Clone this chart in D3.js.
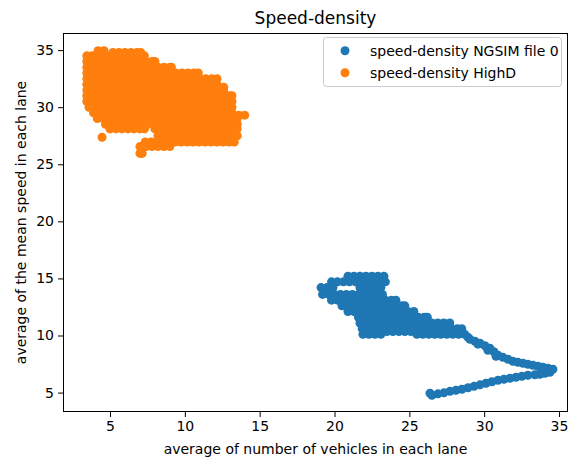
<!DOCTYPE html>
<html>
<head>
<meta charset="utf-8">
<script src="https://cdn.jsdelivr.net/npm/d3@7"></script>
<style>
  html, body { margin: 0; padding: 0; background: #fff; }
  svg { display: block; font-family: "DejaVu Sans", sans-serif; }
</style>
</head>
<body>
<svg id="chart" width="570" height="462"></svg>
<script>
// ---------- data ----------
const title = "Speed-density";
const xLabel = "average of number of vehicles in each lane";
const yLabel = "average of the mean speed in each lane";
const seriesNames = ["speed-density NGSIM file 0", "speed-density HighD"];
const xTicks = [5, 10, 15, 20, 25, 30, 35];
const yTicks = [5, 10, 15, 20, 25, 30, 35];

// NGSIM (blue): rows of [speed, [densities...]]
const ngsimRows = [
  [15.2, [20.9, 21.3, 21.7, 22.1, 22.5, 22.9, 23.3]],
  [14.7, [19.8, 20.2, 20.6, 21.0, 21.4, 21.8, 22.2, 22.6, 23.0, 23.4]],
  [14.2, [19.1, 19.5, 19.9, 21.7, 22.1, 22.5, 22.9, 23.1]],
  [13.6, [19.2, 19.6, 20.0, 20.4, 20.8, 21.2, 21.6, 22.0, 22.4, 22.8, 23.2]],
  [13.1, [19.8, 20.2, 20.6, 21.0, 21.4, 21.8, 22.2, 22.6, 23.0, 23.4, 23.8, 24.1]],
  [12.6, [20.5, 20.9, 21.3, 21.7, 22.1, 22.5, 22.9, 23.3, 23.7, 24.1, 24.5, 24.7]],
  [12.1, [20.9, 21.3, 21.7, 22.1, 22.5, 22.9, 23.3, 23.7, 24.1, 24.5, 24.9, 25.3]],
  [11.6, [21.6, 22.0, 22.4, 22.8, 23.2, 23.6, 24.0, 24.4, 24.8, 25.2, 25.6, 26.0, 26.2]],
  [11.1, [21.7, 22.1, 22.5, 22.9, 23.3, 23.7, 24.1, 24.5, 24.9, 25.3, 25.7, 26.1, 26.5, 26.9, 27.3, 27.7]],
  [10.6, [21.85, 22.2, 22.6, 23.0, 23.4, 23.8, 24.2, 24.6, 25.0, 25.4, 25.8, 26.2, 26.6, 27.0, 27.4, 27.8, 28.2, 28.5]],
  [10.35, [23.5, 23.9, 24.3, 24.7, 25.1]],
  [10.1, [21.9, 22.3, 22.7, 23.1, 25.5, 25.9, 26.3, 26.7, 27.1, 27.5, 27.9, 28.3, 28.7]]
];
// NGSIM (blue): descending band and returning lower band, [density, speed]
const ngsimBand = [
  [28.92, 9.84], [29.05, 9.67], [29.38, 9.50], [29.58, 9.24], [29.72, 9.32], [30.05, 9.10],
  [30.25, 8.70], [30.38, 8.88], [30.65, 8.58], [30.79, 8.18], [30.92, 8.27], [31.25, 8.09],
  [31.59, 7.92], [31.92, 7.74], [32.25, 7.65], [32.59, 7.57], [32.92, 7.48], [33.26, 7.39],
  [33.59, 7.31], [33.92, 7.22], [34.26, 7.13], [34.59, 7.04]
];
const ngsimLower = [
  [34.39, 6.78], [34.06, 6.69], [33.72, 6.60], [33.39, 6.56], [32.92, 6.52], [32.52, 6.43],
  [32.12, 6.34], [31.72, 6.25], [31.32, 6.17], [30.92, 6.08], [30.52, 5.95], [30.12, 5.82],
  [29.72, 5.68], [29.32, 5.55], [28.92, 5.42], [28.51, 5.29], [28.11, 5.20], [27.71, 5.11],
  [27.31, 4.98], [26.91, 4.89], [26.51, 4.76], [26.38, 4.94]
];

// HighD (orange): rows of [speed, [densities...]]
const highdRows = [
  [34.95, [4.2, 4.6]],
  [34.8, [5.2, 5.6, 6.0, 6.4, 6.8, 7.05]],
  [34.5, [3.45, 3.8, 4.2, 4.6, 5.0, 5.4, 5.8, 6.2, 6.6, 7.0, 7.3]],
  [34.0, [3.45, 3.8, 4.2, 4.6, 5.0, 5.4, 5.8, 6.2, 6.6, 7.0, 7.4, 7.8, 8.0]],
  [33.5, [3.45, 3.8, 4.2, 4.6, 5.0, 5.4, 5.8, 6.2, 6.6, 7.0, 7.4, 7.8, 8.2, 8.6, 9.0, 9.1]],
  [33.0, [3.45, 3.8, 4.2, 4.6, 5.0, 5.4, 5.8, 6.2, 6.6, 7.0, 7.4, 7.8, 8.2, 8.6, 9.0, 9.4, 9.8, 10.2, 10.6, 10.9]],
  [32.5, [3.45, 3.8, 4.2, 4.6, 5.0, 5.4, 5.8, 6.2, 6.6, 7.0, 7.4, 7.8, 8.2, 8.6, 9.0, 9.4, 9.8, 10.2, 10.6, 11.0, 11.4, 11.8, 12.15]],
  [32.0, [3.45, 3.8, 4.2, 4.6, 5.0, 5.4, 5.8, 6.2, 6.6, 7.0, 7.4, 7.8, 8.2, 8.6, 9.0, 9.4, 9.8, 10.2, 10.6, 11.0, 11.4, 11.8, 12.15]],
  [31.75, [12.6]],
  [31.5, [3.45, 3.8, 4.2, 4.6, 5.0, 5.4, 5.8, 6.2, 6.6, 7.0, 7.4, 7.8, 8.2, 8.6, 9.0, 9.4, 9.8, 10.2, 10.6, 11.0, 11.4, 11.8, 12.2, 12.6]],
  [31.0, [3.45, 3.8, 4.2, 4.6, 5.0, 5.4, 5.8, 6.2, 6.6, 7.0, 7.4, 7.8, 8.2, 8.6, 9.0, 9.4, 9.8, 10.2, 10.6, 11.0, 11.4, 11.8, 12.2, 12.6, 13.0, 13.15]],
  [30.5, [3.45, 3.8, 4.2, 4.6, 5.0, 5.4, 5.8, 6.2, 6.6, 7.0, 7.4, 7.8, 8.2, 8.6, 9.0, 9.4, 9.8, 10.2, 10.6, 11.0, 11.4, 11.8, 12.2, 12.6, 13.0, 13.15]],
  [30.0, [3.6, 4.0, 4.4, 4.8, 5.2, 5.6, 6.0, 6.4, 6.8, 7.2, 7.6, 8.0, 8.4, 8.8, 9.2, 9.6, 10.0, 10.4, 10.8, 11.2, 11.6, 12.0, 12.4, 12.8, 13.15]],
  [29.5, [3.9, 4.3, 4.7, 5.1, 5.5, 5.9, 6.3, 6.7, 7.1, 7.5, 7.9, 8.3, 8.7, 9.1, 9.5, 9.9, 10.3, 10.7, 11.1, 11.5, 11.9, 12.3, 12.7, 13.15]],
  [29.3, [13.6, 14.0]],
  [29.0, [4.15, 4.55, 4.95, 5.35, 5.75, 6.15, 6.55, 6.95, 7.35, 7.75, 8.15, 8.55, 8.95, 9.35, 9.75, 10.15, 10.55, 10.95, 11.35, 11.75, 12.15, 12.55, 12.95, 13.3, 13.5]],
  [28.5, [4.7, 5.1, 5.5, 5.9, 6.3, 6.7, 7.1, 7.5, 7.9, 8.3, 8.7, 9.1, 9.5, 9.9, 10.3, 10.7, 11.1, 11.5, 11.9, 12.3, 12.7, 13.1, 13.5]],
  [28.1, [5.0, 5.4, 5.8, 6.2, 6.6, 7.0, 7.3, 8.0, 8.4, 8.8, 9.2, 9.6, 10.0, 10.4, 10.8, 11.2, 11.6, 12.0, 12.4, 12.8, 13.2, 13.5]],
  [27.5, [8.2, 8.6, 9.0, 9.4, 9.8, 10.2, 10.6, 11.0, 11.4, 11.8, 12.2, 12.6, 13.0, 13.5]],
  [27.37, [4.47]],
  [26.95, [7.35, 7.75, 8.15, 8.55, 8.95, 9.35, 9.75, 10.15, 10.55, 10.95, 11.35, 11.75, 12.15, 12.55, 12.95, 13.3]],
  [26.55, [7.0, 7.4, 7.8, 8.2, 8.6, 9.0]],
  [25.95, [7.0, 7.15]]
];

const colors = ["#1f77b4", "#ff7f0e"];

// ---------- build point tables ----------
const fromRows = rows => rows.flatMap(([yv, xs]) => xs.map(xv => [xv, yv]));
const ngsimPts = fromRows(ngsimRows).concat(ngsimBand, ngsimLower);
const highdPts = fromRows(highdRows);

// ---------- layout ----------
const W = 570, H = 462;
const plot = { left: 63, right: 568, top: 33, bottom: 412 };
const R = 4.5;
const FONT = "DejaVu Sans, sans-serif";

const svg = d3.select("#chart");
svg.append("rect").attr("width", W).attr("height", H).attr("fill", "#fff");

const x = d3.scaleLinear().domain([1.86, 35.6]).range([plot.left, plot.right]);
const y = d3.scaleLinear().domain([3.3, 36.5]).range([plot.bottom, plot.top]);

// points
const g = svg.append("g");
[ngsimPts, highdPts].forEach((pts, i) => {
  g.append("g").selectAll("circle").data(pts).join("circle")
    .attr("cx", d => x(d[0])).attr("cy", d => y(d[1]))
    .attr("r", R).attr("fill", colors[i]);
});

// axes
const xAxis = svg.append("g").attr("transform", `translate(0,${plot.bottom})`)
  .call(d3.axisBottom(x).tickValues(xTicks).tickSize(5).tickSizeOuter(0).tickPadding(4).tickFormat(d3.format("d")));
const yAxis = svg.append("g").attr("transform", `translate(${plot.left},0)`)
  .call(d3.axisLeft(y).tickValues(yTicks).tickSize(5).tickSizeOuter(0).tickPadding(4).tickFormat(d3.format("d")));
[xAxis, yAxis].forEach(a => {
  a.select(".domain").remove();
  a.selectAll("line").attr("stroke", "#000").attr("stroke-width", 1);
  a.selectAll("text").attr("font-family", FONT).attr("font-size", 14).attr("fill", "#000");
});

// frame
svg.append("rect")
  .attr("x", plot.left + 0.5).attr("y", plot.top + 0.5)
  .attr("width", plot.right - plot.left - 1).attr("height", plot.bottom - plot.top - 1)
  .attr("fill", "none").attr("stroke", "#000").attr("stroke-width", 1);

// title and labels
svg.append("text").attr("x", (plot.left + plot.right) / 2).attr("y", 23.5)
  .attr("text-anchor", "middle").attr("font-family", FONT).attr("font-size", 17).attr("fill", "#000")
  .text(title);
svg.append("text").attr("x", (plot.left + plot.right) / 2).attr("y", 454)
  .attr("text-anchor", "middle").attr("font-family", FONT).attr("font-size", 14).attr("fill", "#000")
  .text(xLabel);
svg.append("text").attr("transform", `translate(25.5,${(plot.top + plot.bottom) / 2}) rotate(-90)`)
  .attr("text-anchor", "middle").attr("font-family", FONT).attr("font-size", 14).attr("fill", "#000")
  .text(yLabel);

// legend
const lg = svg.append("g");
lg.append("rect").attr("x", 323.5).attr("y", 37.5).attr("width", 238).attr("height", 49)
  .attr("rx", 3).attr("fill", "#fff").attr("fill-opacity", 0.8)
  .attr("stroke", "#cccccc").attr("stroke-width", 1);
seriesNames.forEach((name, i) => {
  const cy = 50.7 + i * 22;
  lg.append("circle").attr("cx", 345).attr("cy", cy).attr("r", R).attr("fill", colors[i]);
  lg.append("text").attr("x", 370).attr("y", cy + 5)
    .attr("font-family", FONT).attr("font-size", 14).attr("fill", "#000").text(name);
});
</script>
</body>
</html>
